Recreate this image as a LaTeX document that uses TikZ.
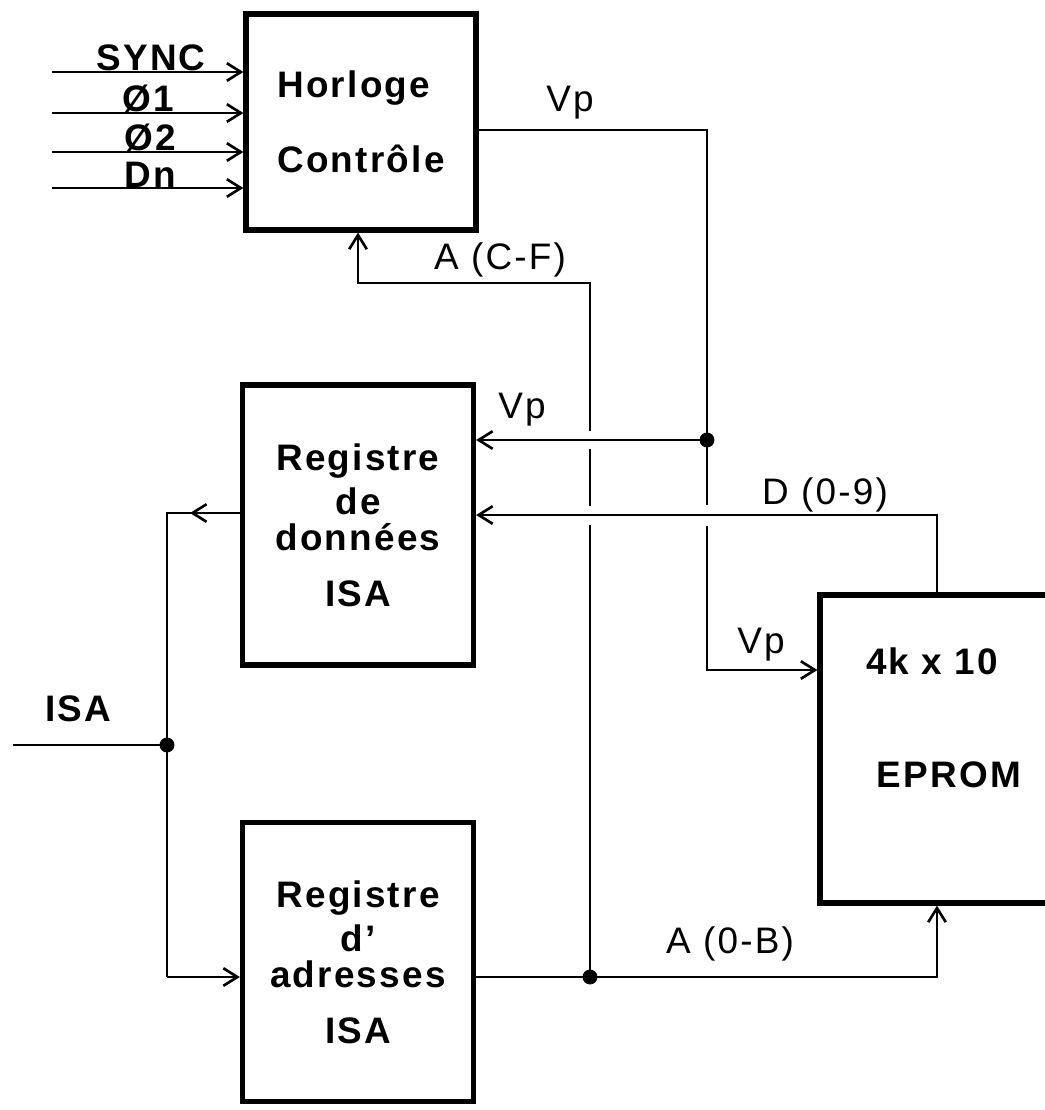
\documentclass[tikz,border=0pt]{standalone}
\usepackage{fontspec}
\setmainfont{Liberation Sans}
\usetikzlibrary{arrows.meta,calc}
\newcommand\bxfont{\fontsize{21}{24}\selectfont\bfseries\addfontfeature{LetterSpace=6}}
\newcommand\lblfont{\fontsize{21}{24}\selectfont\addfontfeature{LetterSpace=6}}
\newcommand\blblfont{\fontsize{21}{24}\selectfont\bfseries\addfontfeature{LetterSpace=6}}
\begin{document}
\begin{tikzpicture}[x=0.02cm,y=-0.02cm,
  box/.style={draw, line width=3pt, inner sep=0pt, align=center, font=\bxfont},
  wire/.style={line width=1.5pt},
  arr/.style={wire, -{Straight Barb[length=8pt,width=10pt,line width=1.5pt]}},
  lbl/.style={font=\lblfont, inner sep=0pt},
  blbl/.style={font=\blblfont, inner sep=0pt},
  dot/.style={circle, fill, inner sep=0pt, minimum size=8.5pt}]
\useasboundingbox (0,0) rectangle (1045,1110);
\clip (0,0) rectangle (1045,1110);

% boxes
\node[box, minimum width=4.6cm, minimum height=4.32cm, align=left] (hor) at (361,122) {Horloge\\[19pt]Contrôle};
\node[box, minimum width=4.62cm, minimum height=5.6cm] (dreg) at (358,525) {Registre\\[1pt]de\\[-3.5pt]données\\[8pt]ISA};
\node[box, minimum width=4.62cm, minimum height=5.58cm] (areg) at (358,962) {Registre\\[1pt]d'\\[-3.5pt]adresses\\[8pt]ISA};
\node[box, minimum width=5cm, minimum height=6.16cm] (ep) at (945,749) {};
\node[blbl] (epa) at (932,661) {4k x 10};
\node[blbl] (epb) at (949,775) {EPROM};

% inputs of Horloge
\coordinate (in1) at (52,72);
\coordinate (in2) at (52,113);
\coordinate (in3) at (52,152);
\coordinate (in4) at (52,188);
\foreach \c in {in1,in2,in3,in4} \draw[arr] (\c) -- (\c -| hor.west);
\node[blbl, anchor=base] (lsync) at (151,70) {SYNC};
\node[blbl, anchor=base] (lph1) at (148,111) {Ø1};
\node[blbl, anchor=base] (lph2) at (150,150) {Ø2};
\node[blbl, anchor=base] (ldn) at (150,187) {Dn};

% Vp
\coordinate (vpc) at (707,130);
\coordinate (vpj) at (707,440);
\coordinate (vpg1) at (707,505);
\coordinate (vpg2) at (707,526);
\coordinate (vpe) at (707,670);
\draw[wire] (hor.east |- vpc) -- (vpc) -- (vpg1);
\draw[arr] (vpg2) -- (vpe) -- (vpe -| ep.west);
\draw[arr] (vpj) -- (vpj -| dreg.east);
\node[dot] (vpdot) at (vpj) {};
\node[lbl] (lvp1) at (570,103) {Vp};
\node[lbl] (lvp2) at (522,410) {Vp};
\node[lbl] (lvp3) at (761,645) {Vp};

% A(C-F)
\coordinate (acf1) at (358,283);
\coordinate (acf2) at (590,283);
\coordinate (ag1) at (590,431);
\coordinate (ag2) at (590,449);
\coordinate (ag3) at (590,506);
\coordinate (ag4) at (590,525);
\coordinate (abj) at (590,977);
\draw[arr] (ag1) -- (acf2) -- (acf1) -- (acf1 |- hor.south);
\draw[wire] (ag2) -- (ag3);
\draw[wire] (ag4) -- (abj);
\node[lbl] (lacf) at (500,260) {A (C-F)};

% A(0-B)
\coordinate (abe) at (937,977);
\draw[arr] (areg.east |- abj) -- (abe) -- (abe |- ep.south);
\node[dot] (abdot) at (abj) {};
\node[lbl] (lab) at (730,944) {A (0-B)};

% D(0-9)
\coordinate (dc) at (937,515);
\draw[arr] (dc |- ep.north) -- (dc) -- (dc -| dreg.east);
\node[lbl] (ld) at (825,495) {D (0-9)};

% ISA bus
\coordinate (isl) at (13,745);
\coordinate (isj) at (167,745);
\coordinate (ist) at (167,513);
\coordinate (ista) at (190,513);
\coordinate (isb) at (167,977);
\draw[wire] (isl) -- (isj);
\draw[wire] (dreg.west |- ist) -- (ist) -- (isb);
\draw[arr] (dreg.west |- ist) -- (ista);
\draw[arr] (isb) -- (isb -| areg.west);
\node[dot] (isdot) at (isj) {};
\node[blbl] (lisa) at (78,709) {ISA};
\end{tikzpicture}
\end{document}
